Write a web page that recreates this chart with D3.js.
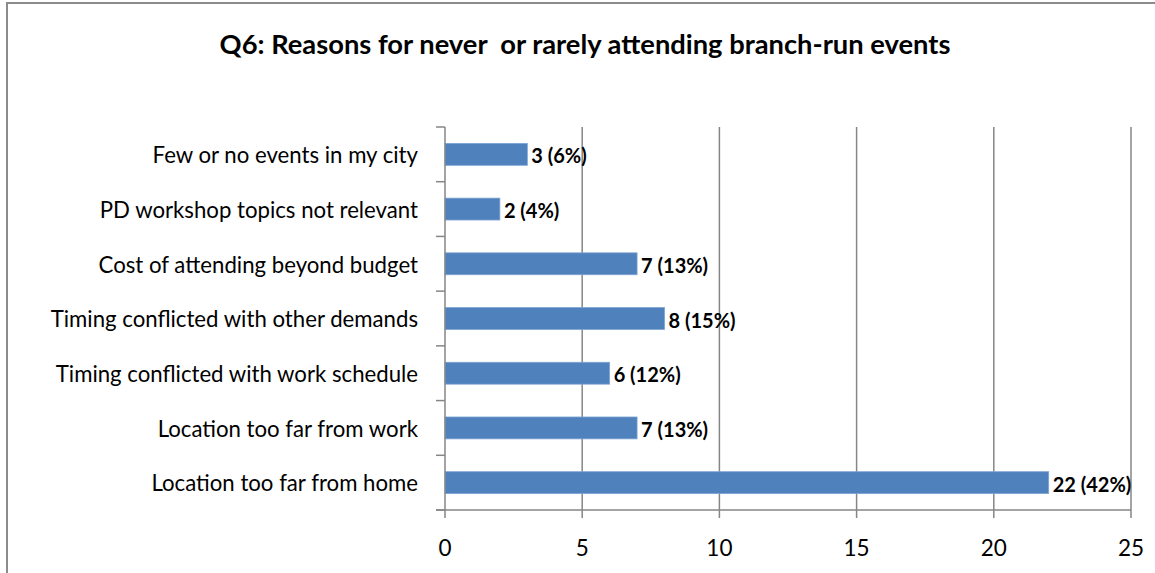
<!DOCTYPE html>
<html><head><meta charset="utf-8">
<script src="https://cdn.jsdelivr.net/npm/d3@7"></script>
<style>body{margin:0;background:#fff}svg{display:block}</style>
</head><body><svg id="c" width="1155" height="573"></svg>
<script>
const categories = ["Few or no events in my city","PD workshop topics not relevant","Cost of attending beyond budget","Timing conflicted with other demands","Timing conflicted with work schedule","Location too far from work","Location too far from home"];
const values = [3,2,7,8,6,7,22];
const percents = ["6%","4%","13%","15%","12%","13%","42%"];
const xTicks = [0,5,10,15,20,25];
const title = "Q6: Reasons for never\u00a0 or rarely attending branch-run events";

const svg = d3.select("#c");
const font = "Lato, 'Open Sans', sans-serif";
svg.append("rect").attr("x",7).attr("y",3).attr("width",1160).attr("height",600)
  .attr("fill","#fff").attr("stroke","#8c8c8c").attr("stroke-width",2);
svg.append("text").attr("x",585).attr("y",54).attr("text-anchor","middle")
  .attr("font-family",font).attr("font-weight","bold").attr("font-size",27.3)
  .attr("fill","#000").text(title);

const L=445,R=1131,T=127,B=510;
const x = d3.scaleLinear().domain([0,25]).range([L,R]);
const y = d3.scaleBand().domain(categories).range([T,B]).paddingInner(0.6).paddingOuter(0.3);
const yEdges = d3.scaleLinear().domain([0,categories.length]).range([T,B]);

const g = svg.append("g");
g.selectAll("line.grid").data(xTicks.slice(1)).join("line")
  .attr("x1",d=>x(d)).attr("x2",d=>x(d)).attr("y1",T).attr("y2",B)
  .attr("stroke","#868686").attr("stroke-width",1.5);
g.selectAll("rect.bar").data(values).join("rect")
  .attr("x",x(0)).attr("y",(d,i)=>y(categories[i]))
  .attr("width",d=>x(d)-x(0)).attr("height",y.bandwidth())
  .attr("fill","#4f81bd").attr("stroke","#7ea3d3").attr("stroke-width",0.8);
g.append("line").attr("x1",L).attr("x2",L).attr("y1",T).attr("y2",B).attr("stroke","#868686").attr("stroke-width",1.5);
g.selectAll("line.yt").data(d3.range(categories.length+1)).join("line")
  .attr("x1",L-9).attr("x2",L).attr("y1",d=>yEdges(d)).attr("y2",d=>yEdges(d))
  .attr("stroke","#868686").attr("stroke-width",1.5);
g.append("line").attr("x1",L-9).attr("x2",R).attr("y1",B).attr("y2",B).attr("stroke","#868686").attr("stroke-width",1.5);
g.selectAll("line.xt").data(xTicks).join("line")
  .attr("x1",d=>x(d)).attr("x2",d=>x(d)).attr("y1",B).attr("y2",B+8)
  .attr("stroke","#868686").attr("stroke-width",1.5);
g.selectAll("text.xl").data(xTicks).join("text")
  .attr("x",d=>x(d)).attr("y",556).attr("text-anchor","middle")
  .attr("font-family",font).attr("font-size",22.5).attr("fill","#000").text(d=>d);
g.selectAll("text.yl").data(categories).join("text")
  .attr("x",418).attr("y",d=>y(d)+y.bandwidth()/2+1).attr("dy","0.35em").attr("text-anchor","end")
  .attr("font-family",font).attr("font-size",22.2).attr("fill","#000").text(d=>d);
g.selectAll("text.vl").data(values).join("text")
  .attr("x",d=>x(d)+4).attr("y",(d,i)=>y(categories[i])+y.bandwidth()/2+2).attr("dy","0.35em")
  .attr("font-family",font).attr("font-weight","bold").attr("font-size",20).attr("fill","#000")
  .text((d,i)=>d+" ("+percents[i]+")");
</script></body></html>
